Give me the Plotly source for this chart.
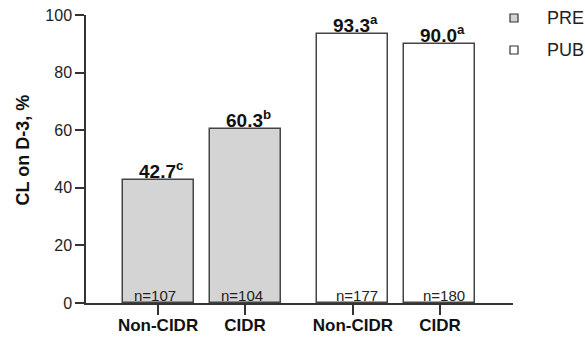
import plotly.graph_objects as go

groups = ["PRE", "PRE", "PUB", "PUB"]
treatments = ["Non-CIDR", "CIDR", "Non-CIDR", "CIDR"]
values = [42.7, 60.3, 93.3, 90.0]
letters = ["c", "b", "a", "a"]
counts = [107, 104, 177, 180]
y_ticks = [0, 20, 40, 60, 80, 100]

group_names = ["PRE", "PUB"]
fills = {"PRE": "#d4d4d4", "PUB": "#ffffff"}
FONT = "Arial, Liberation Sans, Helvetica, sans-serif"

# positions: one slot per bar, extra gap between groups
group_gap = 0.24
xpos = []
for i, g in enumerate(groups):
    xpos.append(i + 1 + group_gap * group_names.index(g))

fig = go.Figure()
for g in group_names:
    idx = [i for i, gg in enumerate(groups) if gg == g]
    fig.add_trace(go.Bar(
        x=[xpos[i] for i in idx],
        y=[values[i] for i in idx],
        width=0.816,
        marker=dict(color=fills[g], line=dict(color="#444444", width=1.5)),
        name=g,
        showlegend=False,
    ))

annotations = []
for i in range(len(values)):
    annotations.append(dict(
        x=xpos[i], y=values[i], xref="x", yref="y",
        text=f"<b>{values[i]:.1f}<sup>{letters[i]}</sup></b>",
        showarrow=False, yanchor="bottom", xanchor="center", yshift=-4, xshift=3,
        font=dict(family=FONT, size=19, color="#111111"),
    ))
    annotations.append(dict(
        x=xpos[i], y=0, xref="x", yref="y",
        text=f"n={counts[i]}",
        showarrow=False, yanchor="bottom", xanchor="center", yshift=-3,
        xshift=-3 if groups[i] == "PRE" else 4,
        font=dict(family=FONT, size=15, color="#222222"),
    ))

# y axis title
annotations.append(dict(
    x=-0.1475, y=0.53, xref="paper", yref="paper",
    text="<b>CL on D-3, %</b>", textangle=-90, showarrow=False,
    xanchor="center", yanchor="middle",
    font=dict(family=FONT, size=18, color="#111111"),
))

# legend (manual)
shapes = []
for k, g in enumerate(group_names):
    ypx = 18 + 32 * k
    ypaper = (303 - ypx) / 288
    xpaper = (514 - 86) / 427
    shapes.append(dict(
        type="rect", xref="paper", yref="paper",
        x0=xpaper - 4 / 427, x1=xpaper + 4 / 427,
        y0=ypaper - 4 / 288, y1=ypaper + 4 / 288,
        fillcolor=fills[g], line=dict(color="#333333", width=1.2),
    ))
    annotations.append(dict(
        x=(545 - 86) / 427, y=ypaper, xref="paper", yref="paper",
        text=g, showarrow=False, xanchor="left", yanchor="middle",
        font=dict(family=FONT, size=18, color="#222222"),
    ))

fig.update_layout(
    width=585, height=337,
    margin=dict(l=86, r=72, t=15, b=34),
    plot_bgcolor="white", paper_bgcolor="white",
    bargap=0,
    annotations=annotations,
    shapes=shapes,
    xaxis=dict(
        range=[0.172, 5.08], automargin=False,
        tickmode="array", tickvals=xpos,
        ticktext=[f"<b>{t}</b>" for t in treatments],
        ticks="outside", ticklen=10, tickwidth=1.5, tickcolor="#333333",
        ticklabelstandoff=-4,
        showline=True, linecolor="#333333", linewidth=1.5,
        showgrid=False, zeroline=False,
        tickfont=dict(family=FONT, size=17, color="#111111"),
    ),
    yaxis=dict(
        range=[0, 100], automargin=False,
        tickmode="array", tickvals=y_ticks,
        ticks="outside", ticklen=9, tickwidth=1.5, tickcolor="#333333",
        showline=True, linecolor="#333333", linewidth=1.5,
        showgrid=False, zeroline=False,
        tickfont=dict(family=FONT, size=16, color="#222222"),
    ),
)

fig.write_html(
    "out.html",
    config={"displayModeBar": False},
    post_script="document.body.style.margin='0';document.body.style.overflow='hidden';",
)
